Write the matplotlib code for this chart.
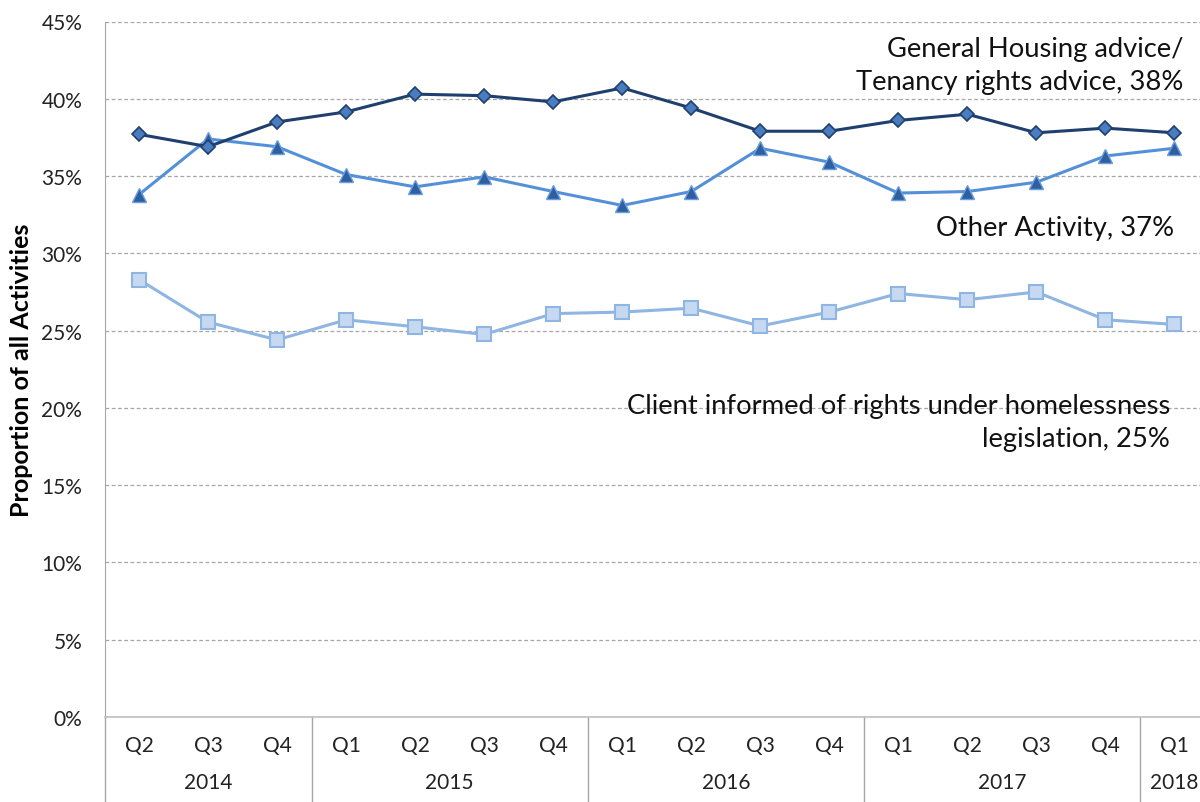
import matplotlib
matplotlib.use("Agg")
import matplotlib.pyplot as plt
from matplotlib.ticker import MultipleLocator, FuncFormatter

plt.rcParams['font.family'] = ['Lato', 'DejaVu Sans']

# quarters and years shown on the category axis
quarters = ['Q2', 'Q3', 'Q4',
            'Q1', 'Q2', 'Q3', 'Q4',
            'Q1', 'Q2', 'Q3', 'Q4',
            'Q1', 'Q2', 'Q3', 'Q4',
            'Q1']
years = ['2014', '2015', '2016', '2017', '2018']
quarters_per_year = [3, 4, 4, 4, 1]

# proportion of all activities (%)
general_housing = [37.7, 36.9, 38.5, 39.15, 40.3, 40.2, 39.8,
                   40.7, 39.4, 37.9, 37.9, 38.6, 39.0, 37.8, 38.1, 37.8]
other_activity = [33.8, 37.4, 36.9, 35.1, 34.3, 34.95, 34.0,
                  33.1, 34.0, 36.8, 35.9, 33.9, 34.0, 34.6, 36.3, 36.8]
homeless_rights = [28.3, 25.55, 24.4, 25.7, 25.25, 24.75, 26.1,
                   26.2, 26.45, 25.3, 26.2, 27.4, 27.0, 27.5, 25.7, 25.4]

labels = ['General Housing advice/\nTenancy rights advice, 38%',
          'Other Activity, 37%',
          'Client informed of rights under homelessness\nlegislation, 25%']

fig = plt.figure(figsize=(12, 8.03), dpi=100)
W, H = 1200, 803
left, right, top, bottom = 104.5, 1209, 22.5, 718
ax = fig.add_axes([left / W, 1 - bottom / H, (right - left) / W, (bottom - top) / H])

x = list(range(len(quarters)))

ax.plot(x, general_housing, color='#1F3F6E', lw=2.2, marker='D', ms=7.5,
        mfc='#4A7CC0', mec='#1F3F6E', mew=1.2, zorder=4)
ax.plot(x, other_activity, color='#5490D8', lw=2.2, marker='^', ms=9.5,
        mfc='#2F5F9E', mec='#6A9EE0', mew=1.0, zorder=3)
ax.plot(x, homeless_rights, color='#8FB5E3', lw=2.2, marker='s', ms=9.5,
        mfc='#C6D9F1', mec='#8FB5E3', mew=1.5, zorder=2)

ax.set_xlim(-0.5, len(quarters) - 0.5)
ax.set_ylim(0, 45)
ax.yaxis.set_major_locator(MultipleLocator(5))
ax.yaxis.set_major_formatter(FuncFormatter(lambda v, p: f'{v:.0f}%'))
ax.grid(axis='y', color='#A6A6A6', ls=(0, (3, 2)), lw=0.9)
ax.set_axisbelow(True)

for s in ['top', 'right']:
    ax.spines[s].set_visible(False)
ax.spines['left'].set_color('#A6A6A6')
ax.spines['bottom'].set_color('#BFBFBF')
ax.spines['bottom'].set_linewidth(1.2)

ax.set_xticks(x)
ax.set_xticklabels(quarters, fontsize=15, color='#222222')
ax.tick_params(axis='x', length=0, pad=13)
ax.tick_params(axis='y', length=0, pad=16, labelsize=15, labelcolor='#222222')
ax.set_ylabel('Proportion of all Activities', fontsize=18, fontweight='bold',
              labelpad=6)

# year group labels and separators below the axis
trans = ax.get_xaxis_transform()
ydrop = -(H - bottom) / (bottom - top)
start = -0.5
ax.plot([start, start], [0, ydrop], transform=trans, color='#A6A6A6',
        lw=1, clip_on=False)
for yr, n in zip(years, quarters_per_year):
    end = start + n
    ax.text((start + end) / 2, -0.0935, yr, transform=trans, ha='center',
            va='center', fontsize=15, color='#222222')
    ax.plot([end, end], [0, ydrop], transform=trans, color='#A6A6A6',
            lw=1, clip_on=False)
    start = end

# series labels
ax.text(15.13, 42.2, labels[0], ha='right', va='center', fontsize=19.7,
        linespacing=1.42, color='#111111')
ax.text(14.99, 31.7, labels[1], ha='right', va='center', fontsize=19.7,
        color='#111111')
ax.text(14.94, 19.1, labels[2], ha='right', va='center', fontsize=19.7,
        linespacing=1.42, color='#111111')

fig.savefig('out.png', dpi=100)
